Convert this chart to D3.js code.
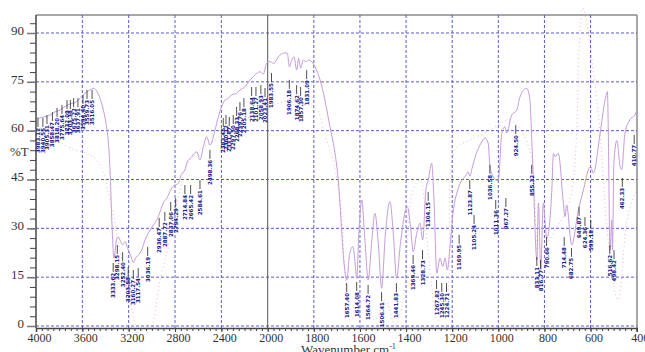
<!DOCTYPE html>
<html>
<head>
<meta charset="utf-8">
<script src="https://cdn.jsdelivr.net/npm/d3@7"></script>
<style>
  body { margin: 0; background: #fff; }
  svg { display: block; }
</style>
</head>
<body>
<div id="plot"></div>
<script>
// IR spectrum, %T against wavenumber (scale doubles below 2000 cm-1)

const width = 645, height = 352;

// tick values
const xTicks = [4000, 3600, 3200, 2800, 2400, 2000, 1800, 1600, 1400, 1200, 1000, 800, 600, 400];
const yTicks = [0, 15, 30, 45, 60, 75, 90];

const specWn = [4000, 3994, 3960, 3922, 3879, 3836, 3793, 3750, 3707, 3663, 3620, 3577, 3534, 3505, 3473, 3448, 3422, 3396, 3379, 3361, 3345, 3327,
  3303, 3290, 3269, 3252, 3232, 3203, 3174, 3160, 3137, 3117, 3088, 3059, 3031, 2987, 2944, 2915, 2895, 2872, 2843, 2820, 2800, 2772, 2742, 2714,
  2699, 2656, 2613, 2584, 2556, 2527, 2498, 2455, 2426, 2397, 2369, 2340, 2311, 2268, 2239, 2196, 2167, 2124, 2095, 2066, 2038, 2009,
  1990, 1976, 1947, 1925, 1915, 1906, 1896, 1886, 1874, 1866, 1857, 1846, 1834, 1824, 1809, 1795, 1773, 1752, 1730, 1708, 1694, 1680, 1670,
  1657, 1645, 1631, 1622, 1614, 1605, 1592, 1580, 1564, 1550, 1535, 1520, 1506, 1490, 1470, 1455, 1441, 1425, 1395, 1380, 1369, 1355, 1340,
  1328, 1314, 1304, 1289, 1279, 1267, 1253, 1241, 1231, 1221, 1209, 1195, 1180, 1166, 1144, 1131, 1123, 1114, 1095, 1075, 1058, 1044, 1036,
  1022, 1010, 1000, 985, 971, 964, 942, 920, 906, 877, 863, 855, 848, 833, 826, 816, 805, 790, 768, 761, 754, 740, 718, 711, 704, 682, 653,
  631, 610, 600, 588, 559, 537, 527, 523, 516, 508, 505, 499, 486, 472, 465, 451, 430, 408, 400];
const specT = [63.8, 63.8, 64.0, 64.3, 64.8, 65.8, 66.3, 67.4, 68.2, 68.6, 69.9, 71.5, 72.5, 73, 72, 70, 66.9, 62.3, 57.7, 48, 32, 20.9,
  26.9, 27.4, 25.9, 24.9, 25.9, 23.3, 20.8, 19.5, 21.1, 21.8, 23.3, 26.4, 28.5, 31, 33.6, 36.6, 38.2, 39.2, 41.3, 42.8, 43.3, 43.8, 46.9, 47.9,
  50, 52, 53.5, 51, 55, 58.1, 55.6, 60.2, 64.3, 67.4, 69.4, 69.9, 71, 71.5, 72.5, 73.5, 75, 76.6, 77.6, 78.1, 77.4, 80.7,
  81.2, 80.7, 83.2, 83.9, 83.8, 79.6, 81.7, 82.7, 78.6, 82.2, 79.2, 81.7, 81.2, 81.7, 81.2, 79.6, 75.6, 69.4, 61.2, 53, 44.8, 30, 20,
  14.1, 22, 24.4, 20, 14.6, 28, 38.7, 28, 14.1, 25, 34.6, 25, 11.6, 28, 38.2, 28, 14.6, 25, 36.7, 30, 22.8, 28, 31.6,
  26.4, 41.8, 44.8, 50, 38.7, 16.2, 20.8, 18.2, 20.9, 17.2, 24.9, 35.6, 40.8, 43.8, 45.9, 47.3, 46, 48.5, 53, 56.2, 57.7, 56.2, 49,
  45.9, 44.8, 44.8, 59.2, 61.2, 59.3, 64.8, 66.3, 70.4, 73, 69.4, 57.1, 44.8, 20.3, 37.8, 17.2, 37.8, 27, 41.8, 53, 52, 53.1, 37.8, 33.6, 37.2, 24.9, 35.6,
  41.8, 47.9, 49, 47, 59, 69.4, 72, 59, 23.3, 32.6, 23.3, 50, 57, 49, 48, 59.2, 63.3, 64.8, 66.3];

// faint dotted second trace (rough reading, it runs off the frame in places)
const refWn = [4000, 3836, 3707, 3534, 3448, 3361, 3275, 3189, 3102, 3016, 2930, 2843, 2757, 2697, 2584, 2455, 2239, 2023,
  1947, 1882, 1838, 1786, 1752, 1717, 1686, 1665, 1643, 1578, 1535, 1491, 1448, 1413, 1370, 1340, 1305, 1262, 1218, 1188,
  1123, 1036, 949, 863, 819, 754, 689, 646, 633, 568, 524, 481, 438, 400];
const refT = [59.3, 57.4, 54.7, 52.5, 49.5, 38.7, 23.3, 8, -2.8, -1.2, 14.1, 26.4, 41.8, 49.5, 54.1, 57.1, 62.7, 66.3,
  68.5, 69.4, 67.9, 66.3, 58.7, 51, 38.7, 17.2, 1.8, 8, 1.8, 8, 0.3, 8, 41.8, 44.8, 23.3, 1.8, 11, 54.1,
  57.1, 60.2, 63.3, 54.1, 23.3, 29.5, 38.7, 90, 97.7, 66.3, 26.4, 8, 34.1, 41.8];

// peak picks: wavenumber and the %T level where the pick mark starts
const peakWn = [3983.12, 3940.55, 3905.31, 3858.47, 3818.20, 3775.64, 3732.09, 3703.38, 3675.22, 3637.91, 3594.40, 3559.73, 3516.05,
  3333.62, 3298.15, 3252.40, 3203.88, 3160.27, 3117.54, 3036.19, 2936.47, 2887.72, 2837.06, 2794.29, 2714.84, 2665.42, 2584.61, 2498.36,
  2383.45, 2360.12, 2331.87, 2297.50, 2268.33, 2239.76, 2205.18, 2138.64, 2101.27, 2058.93, 2023.41, 1983.55, 1906.18, 1874.62, 1857.30, 1831.09,
  1657.40, 1614.08, 1564.72, 1506.41, 1441.83, 1369.46, 1328.73, 1304.15, 1267.82, 1245.30, 1224.71, 1169.95, 1123.87, 1105.24,
  1036.58, 1011.36, 967.27, 924.50, 855.32, 833.11, 816.77, 790.66, 714.48, 682.75, 649.87, 624.36, 599.18, 516.62, 498.42, 462.33, 410.77];
const peakT = [63.9, 63.9, 64.8, 65.7, 67, 67.9, 69.4, 69.4, 70, 70, 71, 72.5, 72.5,
  19.4, 24.9, 22.7, 18.1, 17.2, 17.8, 24.3, 33.2, 35, 38.1, 39.3, 43.3, 43.3, 44.8, 54.1,
  63.9, 64.8, 64.2, 64.8, 67.3, 68.8, 70, 73.4, 73.4, 74, 73.1, 77.7, 75.6, 74, 73.4, 78.6,
  13.2, 13.5, 12.6, 10.4, 13.2, 21.8, 23.3, 41.2, 14.1, 13.2, 13.2, 28, 44.8, 34.1,
  49.5, 38.7, 39.3, 61.7, 49.5, 21.2, 20.3, 27.3, 27.3, 24, 36.6, 33.5, 32.6, 24.9, 23.3, 45.5, 58.7];

// scales: piecewise x with the break at 2000
const x = d3.scaleLinear().domain([4000, 2000, 400]).range([36, 267.7, 636.7]);
const y = d3.scaleLinear().domain([0, 90]).range([326, 33]);

const svg = d3.select("#plot").append("svg")
    .attr("width", width)
    .attr("height", height)
    .style("font-family", "'Liberation Serif', 'DejaVu Serif', serif");

// dotted trace goes underneath everything
const line = d3.line().x(d => x(d[0])).y(d => y(d[1])).curve(d3.curveMonotoneX);
svg.append("path").datum(refWn.map((w, i) => [w, refT[i]]))
  .attr("d", line.curve(d3.curveCatmullRom))
  .attr("fill", "none")
  .attr("stroke", "#eab8cc")
  .attr("stroke-width", 1)
  .attr("stroke-dasharray", "1,3");
line.curve(d3.curveMonotoneX);

// frame top / right
svg.append("line").attr("x1", 36).attr("x2", 637).attr("y1", 15).attr("y2", 15)
  .attr("stroke", "#8a8a8a").attr("stroke-width", 1.5);
svg.append("line").attr("x1", 637).attr("x2", 637).attr("y1", 15).attr("y2", 328)
  .attr("stroke", "#8a8a8a").attr("stroke-width", 1.5);

// dashed grid
svg.append("g").selectAll("line").data(yTicks).join("line")
  .attr("x1", 36).attr("x2", 637)
  .attr("y1", d => y(d)).attr("y2", d => y(d))
  .attr("stroke", "#5b5bd0").attr("stroke-width", 1).attr("stroke-dasharray", "3,2");
svg.append("g").selectAll("line").data(xTicks.filter(d => d !== 4000 && d !== 400 && d !== 2000)).join("line")
  .attr("x1", d => x(d)).attr("x2", d => x(d))
  .attr("y1", 15).attr("y2", 328)
  .attr("stroke", "#5b5bd0").attr("stroke-width", 1).attr("stroke-dasharray", "3,2");
// scale break line
svg.append("line").attr("x1", x(2000)).attr("x2", x(2000)).attr("y1", 15).attr("y2", 328)
  .attr("stroke", "#555").attr("stroke-width", 1);

// spectrum
const spec = specWn.map((w, i) => [w, specT[i]]);
svg.append("path").datum(spec)
  .attr("d", line)
  .attr("fill", "none")
  .attr("stroke", "#c49cd9")
  .attr("stroke-width", 1);

// peak picks
const peaks = peakWn.map((w, i) => ({ w: w, t: peakT[i] }));
const pk = svg.append("g").selectAll("g").data(peaks).join("g")
  .attr("transform", d => `translate(${x(d.w)},${y(d.t)})`);
pk.append("line").attr("x1", 0).attr("x2", 0).attr("y1", 0).attr("y2", 9)
  .attr("stroke", "#222").attr("stroke-width", 0.8);
pk.append("text")
  .attr("transform", "translate(2,10) rotate(-90)")
  .attr("text-anchor", "end")
  .style("font-family", "'DejaVu Sans', sans-serif")
  .style("font-size", "5.5px")
  .style("font-weight", "bold")
  .attr("fill", "#202088")
  .text(d => d.w.toFixed(2));

// x axis
const xMinor = d3.range(4000, 2000, -50).concat(d3.range(2000, 399, -25));
svg.append("g").attr("transform", "translate(0,328)")
  .call(d3.axisBottom(x).tickValues(xMinor).tickSize(3).tickFormat(""))
  .call(g => g.select(".domain").remove())
  .selectAll("line").attr("stroke", "#444");
svg.append("g").attr("transform", "translate(0,328)")
  .call(d3.axisBottom(x).tickValues(xTicks).tickSize(4).tickPadding(1).tickFormat(d3.format("d")))
  .call(g => g.select(".domain").attr("stroke", "#444").attr("stroke-width", 1.5))
  .call(g => g.selectAll("line").attr("stroke", "#444"))
  .call(g => g.selectAll("text").attr("fill", "#333").style("font-size", "12px")
    .style("font-family", "'Liberation Serif', serif").attr("dx", 3));

// y axis
svg.append("g").attr("transform", "translate(36,0)")
  .call(d3.axisLeft(y).tickValues(d3.range(0, 96, 3)).tickSize(6).tickFormat(""))
  .call(g => g.select(".domain").remove())
  .selectAll("line").attr("stroke", "#444");
svg.append("g").attr("transform", "translate(36,0)")
  .call(d3.axisLeft(y).tickValues(yTicks).tickSize(9).tickPadding(3))
  .call(g => g.select(".domain").attr("d", "M0,15V328").attr("stroke", "#444").attr("stroke-width", 1.5))
  .call(g => g.selectAll("line").attr("stroke", "#777").attr("stroke-width", 1.5))
  .call(g => g.selectAll("text").attr("fill", "#333").style("font-size", "13px")
    .style("font-family", "'Liberation Serif', serif").attr("dy", "0.1em"));

// axis titles
svg.append("text").attr("x", 10).attr("y", 156)
  .attr("fill", "#333").style("font-size", "13px").text("%T");
const xt = svg.append("text").attr("x", 301).attr("y", 354)
  .attr("fill", "#333").style("font-size", "13px");
xt.append("tspan").text("Wavenumber cm");
xt.append("tspan").attr("dy", -5).style("font-size", "8px").text("-1");
</script>
</body>
</html>
